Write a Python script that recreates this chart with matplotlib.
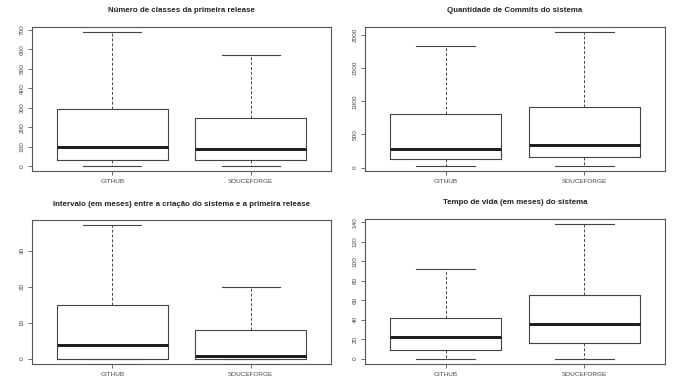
"""Four R-style boxplots comparing GITHUB and SOUCEFORGE projects."""

import matplotlib
matplotlib.use("Agg")
import matplotlib.pyplot as plt

GROUPS = ["GITHUB", "SOUCEFORGE"]

TITLES = [
    "Número de classes da primeira release",
    "Quantidade de Commits do sistema",
    "Intervalo (em meses) entre a criação do sistema e a primeira release",
    "Tempo de vida (em meses) do sistema",
]

# five-number summaries per panel: [GITHUB, SOUCEFORGE]
WHISLO = [[3, 3], [30, 30], [0, 0], [0, 0]]
Q1 = [[31, 31], [126, 156], [0, 0], [9.3, 16.2]]
MEDIAN = [[98, 89], [287, 348], [3.9, 0.75], [21.8, 36]]
Q3 = [[292, 245], [811, 907], [15, 8], [42, 65.7]]
WHISHI = [[686, 570], [1834, 2040], [37, 20], [92, 138]]

YTICKS = [
    list(range(0, 701, 100)),
    list(range(0, 2001, 500)),
    [0, 10, 20, 30],
    list(range(0, 141, 20)),
]

plt.rcParams["font.family"] = ["Liberation Sans", "DejaVu Sans"]

W, H = 685, 386
# axes boxes in pixels: (left, top, right, bottom)
BOXES = [(32, 27, 331, 171), (365, 27, 665, 171),
         (32, 220, 331, 364), (365, 219, 665, 364)]

fig = plt.figure(figsize=(W / 100, H / 100), dpi=100)
edge = "#555555"

for i, (l, t, r, b) in enumerate(BOXES):
    ax = fig.add_axes([l / W, 1 - b / H, (r - l) / W, (b - t) / H])
    stats = []
    for g in range(2):
        stats.append(dict(
            whislo=WHISLO[i][g], q1=Q1[i][g], med=MEDIAN[i][g],
            q3=Q3[i][g], whishi=WHISHI[i][g], fliers=[]))
    ax.bxp(stats, positions=[1, 2], widths=0.8, showfliers=False,
           boxprops=dict(color="#444444", linewidth=0.8),
           whiskerprops=dict(color="#444444", linewidth=0.7, linestyle=(0, (3, 2))),
           capprops=dict(color="#444444", linewidth=0.8),
           medianprops=dict(color="#1a1a1a", linewidth=2.1),
           capwidths=0.42)
    lo = min(WHISLO[i])
    hi = max(WHISHI[i])
    pad = (hi - lo) * 0.04
    ax.set_ylim(lo - pad, hi + pad)
    ax.set_xlim(0.42, 2.58)
    ax.set_xticks([1, 2])
    ax.set_xticklabels(GROUPS)
    ax.set_yticks(YTICKS[i])
    ax.set_yticklabels([str(v) for v in YTICKS[i]], rotation=90, va="center")
    ax.tick_params(axis="both", length=3, width=0.6, color=edge,
                   labelsize=4.6, labelcolor="#444444", pad=2.5)
    for sp in ax.spines.values():
        sp.set_color(edge)
        sp.set_linewidth(0.8)
    ax.text(0.5, 1 + 16 / (b - t), TITLES[i], transform=ax.transAxes,
            ha="center", va="center", fontsize=5.7, fontweight="bold",
            color="#222222")

fig.savefig("out.png", dpi=100)
